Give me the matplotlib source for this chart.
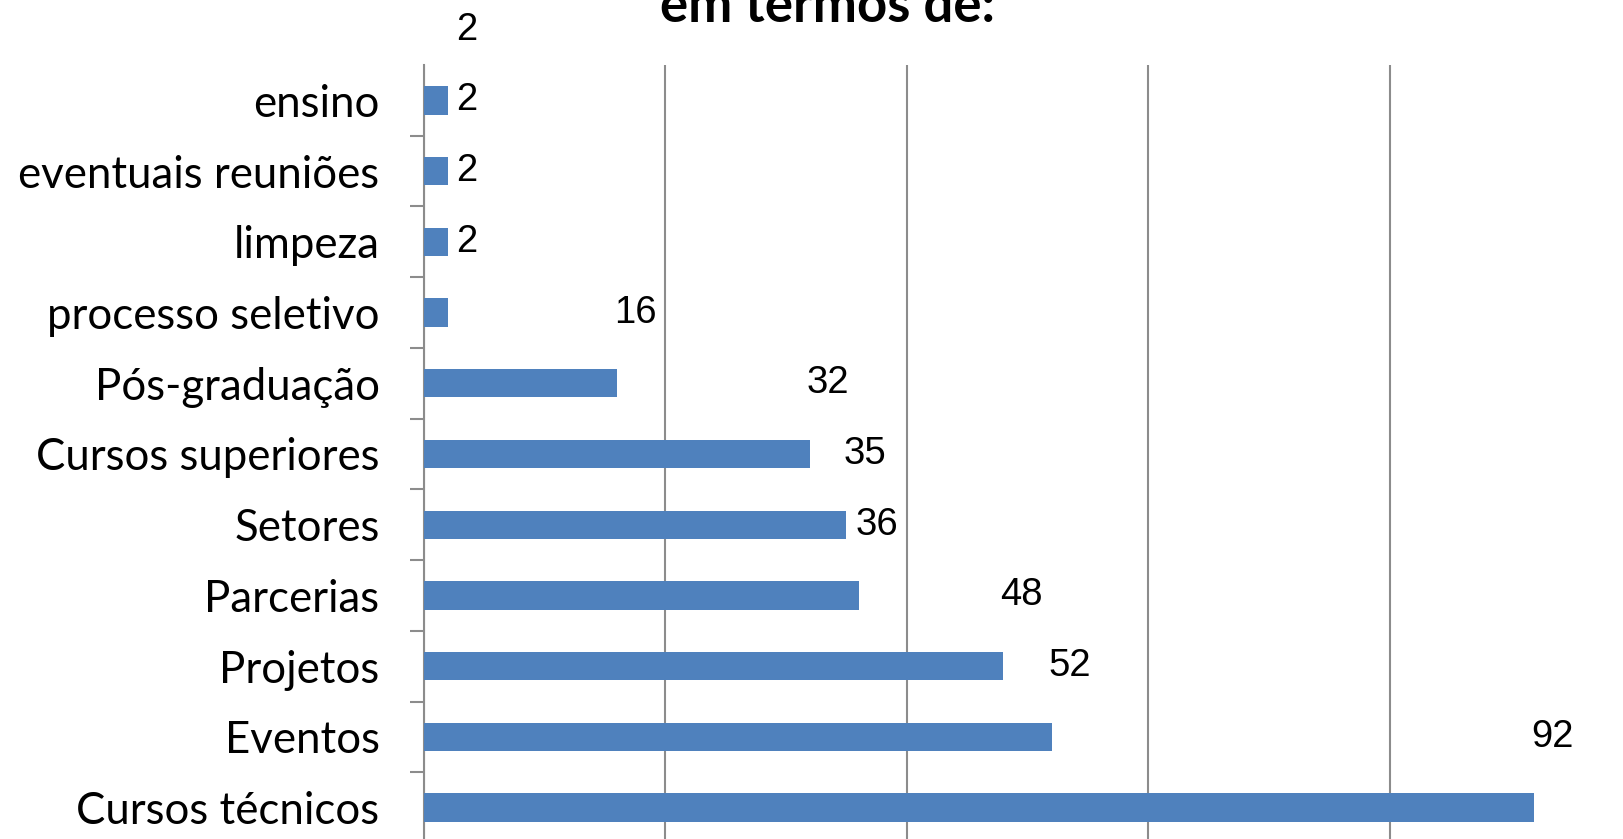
import numpy as np
import matplotlib
matplotlib.use("Agg")
import matplotlib.pyplot as plt
from matplotlib.ticker import MultipleLocator, FixedLocator

# data (bottom to top)
categories = ["Cursos técnicos", "Eventos", "Projetos", "Parcerias", "Setores",
              "Cursos superiores", "Pós-graduação", "processo seletivo",
              "limpeza", "eventuais reuniões", "ensino"]
values = [92, 52, 48, 36, 35, 32, 16, 2, 2, 2, 2]
title = "em termos de:"

bar_color = "#4F81BD"
grid_color = "#8C8C8C"

fig = plt.figure(figsize=(16.23, 8.39), dpi=100)
ax = fig.add_axes([424 / 1623, 1 - 843 / 839, 1207 / 1623, 778 / 839])

pos = np.arange(len(categories))
ax.barh(pos, values, height=0.4, color=bar_color, zorder=3)

# data labels (drawn one row above their bar, as in the source)
for p, v in zip(pos, values):
    ax.annotate(str(v), (v, p + 1), xytext=(13, 0), textcoords="offset points",
                ha="center", va="center", fontsize=27.5,
                family="Liberation Sans", color="black", annotation_clip=False)

ax.set_xlim(0, 100)
ax.set_ylim(-0.5, len(categories) - 0.5)
ax.xaxis.set_major_locator(MultipleLocator(20))
ax.grid(axis="x", color=grid_color, linewidth=1.5, zorder=0)
ax.tick_params(axis="x", length=0, labelbottom=False)

ax.set_yticks(pos)
ax.set_yticklabels(categories, fontsize=31.5, family="Lato")
ax.yaxis.set_minor_locator(FixedLocator(pos[:-1] + 0.5))
ax.tick_params(axis="y", which="major", length=0, pad=32)
ax.tick_params(axis="y", which="minor", length=10, width=1.5, color=grid_color)

for s in ["top", "right", "bottom"]:
    ax.spines[s].set_visible(False)
ax.spines["left"].set_color(grid_color)
ax.spines["left"].set_linewidth(1.5)

fig.text(828 / 1623, 1 - 22 / 839, title, ha="center", va="baseline",
         fontsize=38, fontweight="bold", family="Lato")

fig.savefig("out.png", dpi=100)
